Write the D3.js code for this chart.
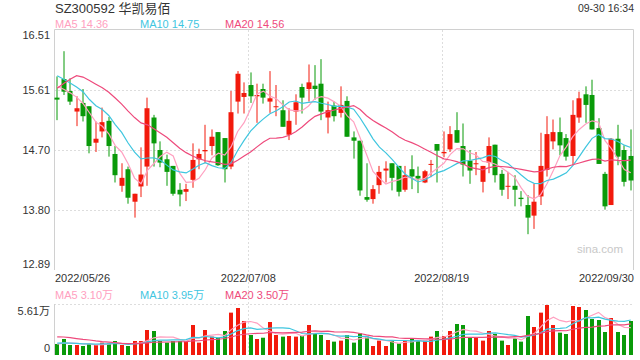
<!DOCTYPE html>
<html>
<head>
<meta charset="utf-8">
<script src="https://cdn.jsdelivr.net/npm/d3@7"></script>
<style>
  body { margin: 0; background: #fff; }
  svg { display: block; font-family: "Liberation Sans", Arial, "Noto Sans CJK SC", sans-serif; }
</style>
</head>
<body>
<div id="chart"></div>
<script>
// ---- data ----
const title = "SZ300592 华凯易佰";
const stamp = "09-30 16:34";

const open = [15.49,15.77,15.59,15.28,15.41,15.36,14.81,14.98,15.14,14.64,
  14.16,14.41,13.92,14.15,14.45,15.19,14.70,14.56,14.46,14.10,
  14.07,14.25,14.56,14.68,14.76,14.97,14.88,14.45,15.43,15.50,
  15.68,15.51,15.62,15.43,15.35,15.30,14.93,15.28,15.65,15.62,
  15.67,15.70,15.19,15.37,15.26,15.44,14.89,14.84,13.99,13.96,
  14.17,14.39,14.50,14.46,14.10,14.41,14.31,14.21,14.48,14.79,
  14.65,14.71,15.00,14.76,14.54,14.49,14.22,14.51,14.78,14.34,
  14.15,14.16,13.98,13.87,13.71,14.00,14.40,14.83,14.97,14.88,
  14.61,15.19,15.54,15.53,15.03,14.34,13.87,14.87,14.70,14.61];
const high = [15.81,16.19,15.78,15.51,15.62,15.36,15.13,15.34,15.20,14.76,
  14.50,14.45,14.04,14.74,15.49,15.23,14.83,14.63,14.46,14.20,
  14.19,14.80,14.72,15.08,15.01,14.97,14.88,15.59,15.89,15.72,
  15.87,15.70,15.70,15.89,15.68,15.45,15.33,15.54,15.70,15.99,
  15.98,16.07,15.43,15.43,15.66,15.51,14.98,14.84,14.50,14.17,
  14.46,14.53,14.50,14.46,14.46,14.62,14.45,14.40,14.55,14.79,
  14.98,15.06,15.27,15.10,14.70,14.67,14.46,14.89,14.78,14.40,
  14.37,14.32,14.08,14.02,14.19,14.96,15.21,15.16,15.19,14.94,
  15.45,15.58,15.66,15.76,15.18,14.37,14.88,15.08,14.77,15.01];
const low = [15.15,15.53,15.38,15.06,15.13,14.65,14.67,14.89,14.60,14.21,
  14.07,13.89,13.68,13.99,14.16,14.45,14.44,14.16,14.01,13.85,
  13.93,14.13,14.41,14.50,14.62,14.46,14.21,14.41,15.25,15.25,
  15.41,15.11,15.40,15.26,15.21,15.05,14.85,15.08,15.25,15.43,
  15.46,15.15,14.95,15.13,15.19,14.90,14.57,14.01,13.92,13.89,
  14.04,14.21,14.09,14.00,14.07,14.11,14.05,14.20,14.29,14.21,
  14.59,14.67,14.81,14.30,14.19,14.32,14.06,14.35,14.21,14.01,
  13.96,13.85,13.85,13.43,13.51,13.87,14.30,14.71,14.62,14.54,
  14.47,15.11,15.11,15.01,14.49,13.80,13.87,14.47,14.15,14.09];
const close = [15.46,15.58,15.43,15.33,15.21,14.76,14.87,15.12,14.76,14.32,
  14.28,13.98,14.04,14.33,15.33,14.80,14.51,14.37,14.04,14.03,
  14.11,14.55,14.64,14.70,14.90,14.47,14.41,15.27,15.85,15.56,
  15.51,15.53,15.49,15.48,15.36,15.05,15.14,15.42,15.49,15.72,
  15.62,15.28,15.30,15.21,15.38,14.90,14.84,14.09,13.95,14.11,
  14.37,14.42,14.28,14.07,14.32,14.30,14.27,14.38,14.49,14.69,
  14.67,14.94,14.81,14.48,14.39,14.50,14.46,14.76,14.32,14.10,
  14.16,14.10,13.96,13.68,13.92,14.46,14.94,14.97,14.77,14.60,
  15.23,15.48,15.38,15.01,14.49,13.85,14.87,14.60,14.22,14.24];
// volume in 万
const volume = [1.21,1.76,1.10,1.10,0.99,1.20,1.10,1.36,1.28,1.54,
  1.10,0.99,1.54,1.54,2.75,2.64,1.54,1.36,1.54,1.54,
  1.54,3.30,1.36,2.75,2.02,1.90,2.64,4.66,5.17,3.74,
  2.20,1.76,1.90,3.63,2.20,2.02,2.09,2.02,2.09,3.30,
  2.40,2.20,1.65,1.47,1.58,2.20,1.36,2.38,2.02,0.99,
  1.58,0.99,1.58,1.28,1.58,1.83,1.58,1.58,2.02,2.64,
  2.09,2.64,3.41,3.30,1.90,1.90,1.58,2.64,2.31,1.58,
  1.10,1.83,1.47,4.29,3.08,4.66,5.50,3.30,2.46,2.31,
  5.39,5.28,4.95,3.96,3.85,2.53,4.07,2.53,2.20,3.74];

// the 19 sessions before the window, estimated from where the MA lines start
const priorClose = [14.10,14.15,14.29,15.60,15.80,16.00,16.20,16.10,16.06,16.10,
  16.10,16.00,15.95,15.90,15.95,15.80,15.70,15.65,15.69];
const priorVolume = [2.2,2.6,3.0,2.8,2.5,3.2,2.9,2.4,2.6,2.8,
  1.5,1.4,1.3,1.5,1.3,1.2,1.1,1.3,1.2];

const priceTicks = [16.51, 15.61, 14.70, 13.80, 12.89];
const volTicks = [5.61, 0];
const dateTicks = [0, 30, 60, 89];
const dateLabels = ["2022/05/26", "2022/07/08", "2022/08/19", "2022/09/30"];

const maPeriods = [5, 10, 20];
const maColors = ["#ffa0c0", "#3fc6df", "#ee4a7c"];
const priceLegend = ["MA5 14.36", "MA10 14.75", "MA20 14.56"];
const volLegend = ["MA5 3.10万", "MA10 3.95万", "MA20 3.50万"];

const upColor = "#f21a0c";
const downColor = "#099a09";

// ---- chart ----
const W = 640, H = 360;
const left = 54, right = 634;
const pTop = 30, pBottom = 270;
const vTop = 304, vBottom = 355;

const svg = d3.select("#chart").append("svg")
    .attr("width", W)
    .attr("height", H);

const idx = d3.range(close.length);
const x = d3.scaleBand().domain(idx).range([left, right]);
const cx = i => x(i) + x.bandwidth() / 2;

const y = d3.scaleLinear().domain([12.89, 16.51]).range([pBottom, pTop]);
const yv = d3.scaleLinear().domain([0, 5.61]).range([vBottom, vTop]);

// moving averages, using the prior sessions so the lines start at the first candle
function movingAvg(prior, values, n) {
    const all = prior.concat(values);
    return values.map((v, i) => {
        const end = i + prior.length;
        return d3.mean(all.slice(end - n + 1, end + 1));
    });
}

// header
svg.append("text")
    .attr("x", 55).attr("y", 13)
    .attr("font-size", 13).attr("fill", "#333")
    .text(title);
svg.append("text")
    .attr("x", 634).attr("y", 12)
    .attr("text-anchor", "end")
    .attr("font-size", 10.5).attr("fill", "#333")
    .text(stamp);

// legends
const legendX = [55, 140, 225];
priceLegend.forEach((t, k) => {
    svg.append("text")
        .attr("x", legendX[k]).attr("y", 27.5)
        .attr("font-size", 11).attr("fill", maColors[k])
        .text(t);
});
volLegend.forEach((t, k) => {
    svg.append("text")
        .attr("x", legendX[k]).attr("y", 299)
        .attr("font-size", 11).attr("fill", maColors[k])
        .text(t);
});

// price grid
const grid = svg.append("g");
grid.selectAll(".hgrid")
    .data(priceTicks.slice(1, -1))
    .enter().append("line")
    .attr("x1", left).attr("x2", right)
    .attr("y1", d => Math.round(y(d)) + 0.5)
    .attr("y2", d => Math.round(y(d)) + 0.5)
    .attr("stroke", "#ddd")
    .attr("stroke-dasharray", "2,2");

grid.selectAll(".vgrid")
    .data(dateTicks.slice(1, -1))
    .enter().append("line")
    .attr("x1", d => Math.round(x(d) + 1) + 0.5)
    .attr("x2", d => Math.round(x(d) + 1) + 0.5)
    .attr("y1", pTop).attr("y2", vBottom)
    .attr("stroke", "#ddd")
    .attr("stroke-dasharray", "2,2");

// volume top dotted line
grid.append("line")
    .attr("x1", left).attr("x2", right)
    .attr("y1", vTop + 0.5).attr("y2", vTop + 0.5)
    .attr("stroke", "#ddd")
    .attr("stroke-dasharray", "2,2");

// frame
grid.append("path")
    .attr("d", `M${left + 0.5},${pBottom} V${pTop - 0.5} H${right - 0.5} V${pBottom}`)
    .attr("fill", "none")
    .attr("stroke", "#d0d0d0");
grid.append("line")
    .attr("x1", left + 0.5).attr("x2", left + 0.5)
    .attr("y1", vTop).attr("y2", vBottom)
    .attr("stroke", "#d0d0d0");

// price labels
priceTicks.forEach((t, k) => {
    let yy = y(t) + 4;
    if (k === 0) yy = pTop + 9;
    if (k === priceTicks.length - 1) yy = pBottom - 2;
    svg.append("text")
        .attr("x", 50).attr("y", yy)
        .attr("text-anchor", "end")
        .attr("font-size", 11).attr("fill", "#333")
        .text(t.toFixed(2));
});
svg.append("text")
    .attr("x", 50).attr("y", vTop + 11)
    .attr("text-anchor", "end")
    .attr("font-size", 11).attr("fill", "#333")
    .text(volTicks[0].toFixed(2) + "万");
svg.append("text")
    .attr("x", 50).attr("y", vBottom - 3)
    .attr("text-anchor", "end")
    .attr("font-size", 11).attr("fill", "#333")
    .text(volTicks[1]);

// date labels
dateTicks.forEach((d, k) => {
    let anchor = "middle", xx = x(d) + 1;
    if (k === 0) { anchor = "start"; xx = left + 1; }
    if (k === dateTicks.length - 1) { anchor = "end"; xx = right; }
    svg.append("text")
        .attr("x", xx).attr("y", 282)
        .attr("text-anchor", anchor)
        .attr("font-size", 11).attr("fill", "#333")
        .text(dateLabels[k]);
});

// watermark
svg.append("text")
    .attr("x", 623).attr("y", 253)
    .attr("text-anchor", "end")
    .attr("font-size", 11.5).attr("fill", "#c8c8c8")
    .text("sina.com");

// candles
const colorOf = i => close[i] >= open[i] ? upColor : downColor;
const bodyW = 5;

const candles = svg.append("g").selectAll(".candle")
    .data(idx)
    .enter().append("g")
    .attr("class", "candle");

candles.append("line")
    .attr("x1", i => Math.round(cx(i)))
    .attr("x2", i => Math.round(cx(i)))
    .attr("y1", i => y(high[i]))
    .attr("y2", i => y(low[i]))
    .attr("stroke", colorOf)
    .attr("stroke-width", 1);

candles.append("rect")
    .attr("x", i => Math.round(cx(i)) - bodyW / 2)
    .attr("width", bodyW)
    .attr("y", i => y(Math.max(open[i], close[i])))
    .attr("height", i => Math.max(1, Math.abs(y(open[i]) - y(close[i]))))
    .attr("fill", colorOf);

// volume bars
svg.append("g").selectAll(".vol")
    .data(idx)
    .enter().append("rect")
    .attr("x", i => Math.round(cx(i)) - 2)
    .attr("width", 4)
    .attr("y", i => yv(volume[i]))
    .attr("height", i => vBottom - yv(volume[i]))
    .attr("fill", colorOf);

// MA lines
const priceLine = d3.line().x((d, i) => cx(i)).y(d => y(d));
const volLine = d3.line().x((d, i) => cx(i)).y(d => yv(d));

maPeriods.forEach((n, k) => {
    svg.append("path")
        .datum(movingAvg(priorClose, close, n))
        .attr("d", priceLine)
        .attr("fill", "none")
        .attr("stroke", maColors[k])
        .attr("stroke-width", 1.2);
    svg.append("path")
        .datum(movingAvg(priorVolume, volume, n))
        .attr("d", volLine)
        .attr("fill", "none")
        .attr("stroke", maColors[k])
        .attr("stroke-width", 1.2);
});
</script>
</body>
</html>
